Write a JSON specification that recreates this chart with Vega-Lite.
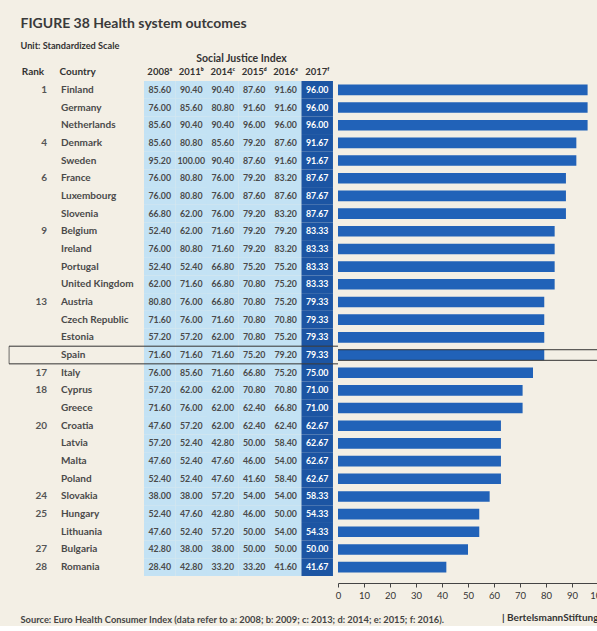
{
  "$schema": "https://vega.github.io/schema/vega-lite/v6.json",
  "background": "#f3efe5",
  "padding": {"left": 8, "top": 16, "right": 0, "bottom": 0},
  "title": {
    "text": "FIGURE 38 Health system outcomes",
    "subtitle": "Unit: Standardized Scale",
    "anchor": "start", "dx": 12, "offset": 2,
    "font": "Lato", "fontSize": 14, "fontWeight": "bold", "color": "#3a3a3a",
    "subtitleFont": "Lato", "subtitleFontSize": 9.2, "subtitleFontWeight": "bold", "subtitleColor": "#333333", "subtitlePadding": 11
  },
  "data": {"values": [
    {"Rank": "1", "Country": "Finland", "2008": 85.6, "2011": 90.4, "2014": 90.4, "2015": 87.6, "2016": 91.6, "2017": 96.0},
    {"Rank": "", "Country": "Germany", "2008": 76.0, "2011": 85.6, "2014": 80.8, "2015": 91.6, "2016": 91.6, "2017": 96.0},
    {"Rank": "", "Country": "Netherlands", "2008": 85.6, "2011": 90.4, "2014": 90.4, "2015": 96.0, "2016": 96.0, "2017": 96.0},
    {"Rank": "4", "Country": "Denmark", "2008": 85.6, "2011": 80.8, "2014": 85.6, "2015": 79.2, "2016": 87.6, "2017": 91.67},
    {"Rank": "", "Country": "Sweden", "2008": 95.2, "2011": 100.0, "2014": 90.4, "2015": 87.6, "2016": 91.6, "2017": 91.67},
    {"Rank": "6", "Country": "France", "2008": 76.0, "2011": 80.8, "2014": 76.0, "2015": 79.2, "2016": 83.2, "2017": 87.67},
    {"Rank": "", "Country": "Luxembourg", "2008": 76.0, "2011": 80.8, "2014": 76.0, "2015": 87.6, "2016": 87.6, "2017": 87.67},
    {"Rank": "", "Country": "Slovenia", "2008": 66.8, "2011": 62.0, "2014": 76.0, "2015": 79.2, "2016": 83.2, "2017": 87.67},
    {"Rank": "9", "Country": "Belgium", "2008": 52.4, "2011": 62.0, "2014": 71.6, "2015": 79.2, "2016": 79.2, "2017": 83.33},
    {"Rank": "", "Country": "Ireland", "2008": 76.0, "2011": 80.8, "2014": 71.6, "2015": 79.2, "2016": 83.2, "2017": 83.33},
    {"Rank": "", "Country": "Portugal", "2008": 52.4, "2011": 52.4, "2014": 66.8, "2015": 75.2, "2016": 75.2, "2017": 83.33},
    {"Rank": "", "Country": "United Kingdom", "2008": 62.0, "2011": 71.6, "2014": 66.8, "2015": 70.8, "2016": 75.2, "2017": 83.33},
    {"Rank": "13", "Country": "Austria", "2008": 80.8, "2011": 76.0, "2014": 66.8, "2015": 70.8, "2016": 75.2, "2017": 79.33},
    {"Rank": "", "Country": "Czech Republic", "2008": 71.6, "2011": 76.0, "2014": 71.6, "2015": 70.8, "2016": 70.8, "2017": 79.33},
    {"Rank": "", "Country": "Estonia", "2008": 57.2, "2011": 57.2, "2014": 62.0, "2015": 70.8, "2016": 75.2, "2017": 79.33},
    {"Rank": "", "Country": "Spain", "2008": 71.6, "2011": 71.6, "2014": 71.6, "2015": 75.2, "2016": 79.2, "2017": 79.33},
    {"Rank": "17", "Country": "Italy", "2008": 76.0, "2011": 85.6, "2014": 71.6, "2015": 66.8, "2016": 75.2, "2017": 75.0},
    {"Rank": "18", "Country": "Cyprus", "2008": 57.2, "2011": 62.0, "2014": 62.0, "2015": 70.8, "2016": 70.8, "2017": 71.0},
    {"Rank": "", "Country": "Greece", "2008": 71.6, "2011": 76.0, "2014": 62.0, "2015": 62.4, "2016": 66.8, "2017": 71.0},
    {"Rank": "20", "Country": "Croatia", "2008": 47.6, "2011": 57.2, "2014": 62.0, "2015": 62.4, "2016": 62.4, "2017": 62.67},
    {"Rank": "", "Country": "Latvia", "2008": 57.2, "2011": 52.4, "2014": 42.8, "2015": 50.0, "2016": 58.4, "2017": 62.67},
    {"Rank": "", "Country": "Malta", "2008": 47.6, "2011": 52.4, "2014": 47.6, "2015": 46.0, "2016": 54.0, "2017": 62.67},
    {"Rank": "", "Country": "Poland", "2008": 52.4, "2011": 52.4, "2014": 47.6, "2015": 41.6, "2016": 58.4, "2017": 62.67},
    {"Rank": "24", "Country": "Slovakia", "2008": 38.0, "2011": 38.0, "2014": 57.2, "2015": 54.0, "2016": 54.0, "2017": 58.33},
    {"Rank": "25", "Country": "Hungary", "2008": 52.4, "2011": 47.6, "2014": 42.8, "2015": 46.0, "2016": 50.0, "2017": 54.33},
    {"Rank": "", "Country": "Lithuania", "2008": 47.6, "2011": 52.4, "2014": 57.2, "2015": 50.0, "2016": 54.0, "2017": 54.33},
    {"Rank": "27", "Country": "Bulgaria", "2008": 42.8, "2011": 38.0, "2014": 38.0, "2015": 50.0, "2016": 50.0, "2017": 50.0},
    {"Rank": "28", "Country": "Romania", "2008": 28.4, "2011": 42.8, "2014": 33.2, "2015": 33.2, "2016": 41.6, "2017": 41.67}
  ]},
  "spacing": 0,
  "bounds": "flush",
  "config": {
    "view": {"stroke": null},
    "font": "Lato",
    "axis": {"grid": false, "labelFont": "Lato", "titleFont": "Lato", "labelColor": "#333333", "titleColor": "#333333"}
  },
  "hconcat": [
    {
      "width": 48, "height": 495,
      "title": {
        "text": "Source: Euro Health Consumer Index (data refer to a: 2008; b: 2009; c: 2013; d: 2014; e: 2015; f: 2016).",
        "orient": "bottom", "anchor": "start", "dx": 12, "offset": 40,
        "font": "Lato", "fontSize": 9.3, "fontWeight": "bold", "color": "#444444"
      },
      "layer": [
        {
          "mark": {"type": "text", "align": "right", "dx": -10, "fontSize": 10, "fontWeight": "bold", "color": "#555555"},
          "encoding": {
            "x": {"datum": "Rank", "type": "nominal", "bandPosition": 1,
                  "scale": {"paddingInner": 0, "paddingOuter": 0},
                  "axis": {"orient": "top", "title": null, "domain": false, "ticks": false, "labelAngle": 0, "labelFontWeight": "bold", "labelFontSize": 10, "labelPadding": 5}},
            "y": {"field": "Country", "type": "nominal", "sort": null, "axis": null},
            "text": {"field": "Rank"}
          }
        },
        {
          "transform": [{"filter": "datum.Country === 'Spain'"}],
          "mark": {"type": "tick", "orient": "vertical", "color": "#333333", "thickness": 1, "size": 17.7},
          "encoding": {
            "x": {"datum": "Rank", "type": "nominal", "bandPosition": 0.002},
            "y": {"field": "Country", "type": "nominal", "sort": null}
          }
        },
        {
          "transform": [{"filter": "datum.Country === 'Spain'"}],
          "mark": {"type": "rule", "color": "#333333", "strokeWidth": 1},
          "encoding": {"y": {"field": "Country", "type": "nominal", "sort": null, "bandPosition": 0.001}}
        },
        {
          "transform": [{"filter": "datum.Country === 'Spain'"}],
          "mark": {"type": "rule", "color": "#333333", "strokeWidth": 1},
          "encoding": {"y": {"field": "Country", "type": "nominal", "sort": null, "bandPosition": 1}}
        }
      ]
    },
    {
      "width": 87, "height": 495,
      "layer": [
        {
          "mark": {"type": "text", "align": "left", "dx": -39.5, "fontSize": 10, "fontWeight": "bold", "color": "#4a4a4a"},
          "encoding": {
            "x": {"datum": "Country", "type": "nominal",
                  "scale": {"paddingInner": 0, "paddingOuter": 0},
                  "axis": {"orient": "top", "title": null, "domain": false, "ticks": false, "labelAngle": 0, "labelAlign": "left", "labelOffset": -41.5, "labelFontWeight": "bold", "labelFontSize": 10, "labelPadding": 5}},
            "y": {"field": "Country", "type": "nominal", "sort": null, "axis": null},
            "text": {"field": "Country"}
          }
        },
        {
          "transform": [{"filter": "datum.Country === 'Spain'"}],
          "mark": {"type": "rule", "color": "#333333", "strokeWidth": 1},
          "encoding": {"y": {"field": "Country", "type": "nominal", "sort": null, "bandPosition": 0.001}}
        },
        {
          "transform": [{"filter": "datum.Country === 'Spain'"}],
          "mark": {"type": "rule", "color": "#333333", "strokeWidth": 1},
          "encoding": {"y": {"field": "Country", "type": "nominal", "sort": null, "bandPosition": 1}}
        }
      ]
    },
    {
      "width": 194, "height": 495,
      "layer": [
        {
          "transform": [{"fold": ["2008", "2011", "2014", "2015", "2016", "2017"], "as": ["Year", "Value"]}],
          "mark": {"type": "rect"},
          "encoding": {
            "x": {"field": "Year", "type": "ordinal",
                  "scale": {"paddingInner": 0, "paddingOuter": 0.08, "align": 0},
                  "axis": {"orient": "top", "title": "Social Justice Index", "titleFontSize": 10.5, "titleFontWeight": "bold", "titlePadding": 3,
                           "domain": false, "ticks": false, "labelAngle": 0, "labelFontWeight": "bold", "labelFontSize": 9.5, "labelPadding": 5,
                           "labelExpr": "datum.value == '2008' ? '2008ᵃ' : datum.value == '2011' ? '2011ᵇ' : datum.value == '2014' ? '2014ᶜ' : datum.value == '2015' ? '2015ᵈ' : datum.value == '2016' ? '2016ᵉ' : '2017ᶠ'"}},
            "y": {"field": "Country", "type": "nominal", "sort": null, "axis": null, "scale": {"paddingInner": 0, "paddingOuter": 0}},
            "color": {"condition": {"test": "datum.Year === '2017'", "value": "#1c55a3"}, "value": "#c3e2f4"}
          }
        },
        {
          "transform": [{"fold": ["2008", "2011", "2014", "2015", "2016", "2017"], "as": ["Year", "Value"]}],
          "mark": {"type": "text", "fontSize": 8.8, "fontWeight": "bold"},
          "encoding": {
            "x": {"field": "Year", "type": "ordinal"},
            "y": {"field": "Country", "type": "nominal", "sort": null},
            "text": {"field": "Value", "type": "quantitative", "format": ".2f"},
            "color": {"condition": {"test": "datum.Year === '2017'", "value": "#ffffff"}, "value": "#4a4a4a"}
          }
        },
        {
          "transform": [{"filter": "datum.Country === 'Spain'"}],
          "mark": {"type": "rule", "color": "#333333", "strokeWidth": 1},
          "encoding": {"y": {"field": "Country", "type": "nominal", "sort": null, "bandPosition": 0.001}}
        },
        {
          "transform": [{"filter": "datum.Country === 'Spain'"}],
          "mark": {"type": "rule", "color": "#333333", "strokeWidth": 1},
          "encoding": {"y": {"field": "Country", "type": "nominal", "sort": null, "bandPosition": 1}}
        }
      ]
    },
    {
      "width": 260, "height": 495,
      "layer": [
        {
          "mark": {"type": "bar", "color": "#2162b8"},
          "encoding": {
            "x": {"field": "2017", "type": "quantitative",
                  "scale": {"domain": [0, 100], "nice": false},
                  "axis": {"orient": "bottom", "offset": 7, "values": [0, 10, 20, 30, 40, 50, 60, 70, 80, 90, 100],
                           "labelFlush": false, "labelFontSize": 9.5, "labelPadding": 3, "tickSize": 4, "domainColor": "#444444", "tickColor": "#444444",
                           "title": "| BertelsmannStiftung", "titleAnchor": "end", "titleFontSize": 10, "titleFontWeight": "bold", "titlePadding": 13}},
            "y": {"field": "Country", "type": "nominal", "sort": null, "axis": null, "scale": {"paddingInner": 0.4}}
          }
        },
        {
          "transform": [{"filter": "datum.Country === 'Spain'"}],
          "mark": {"type": "rule", "color": "#333333", "strokeWidth": 1},
          "encoding": {"y": {"field": "Country", "type": "nominal", "sort": null, "bandPosition": 0.001}}
        },
        {
          "transform": [{"filter": "datum.Country === 'Spain'"}],
          "mark": {"type": "rule", "color": "#333333", "strokeWidth": 1},
          "encoding": {"y": {"field": "Country", "type": "nominal", "sort": null, "bandPosition": 1}}
        }
      ]
    }
  ]
}
